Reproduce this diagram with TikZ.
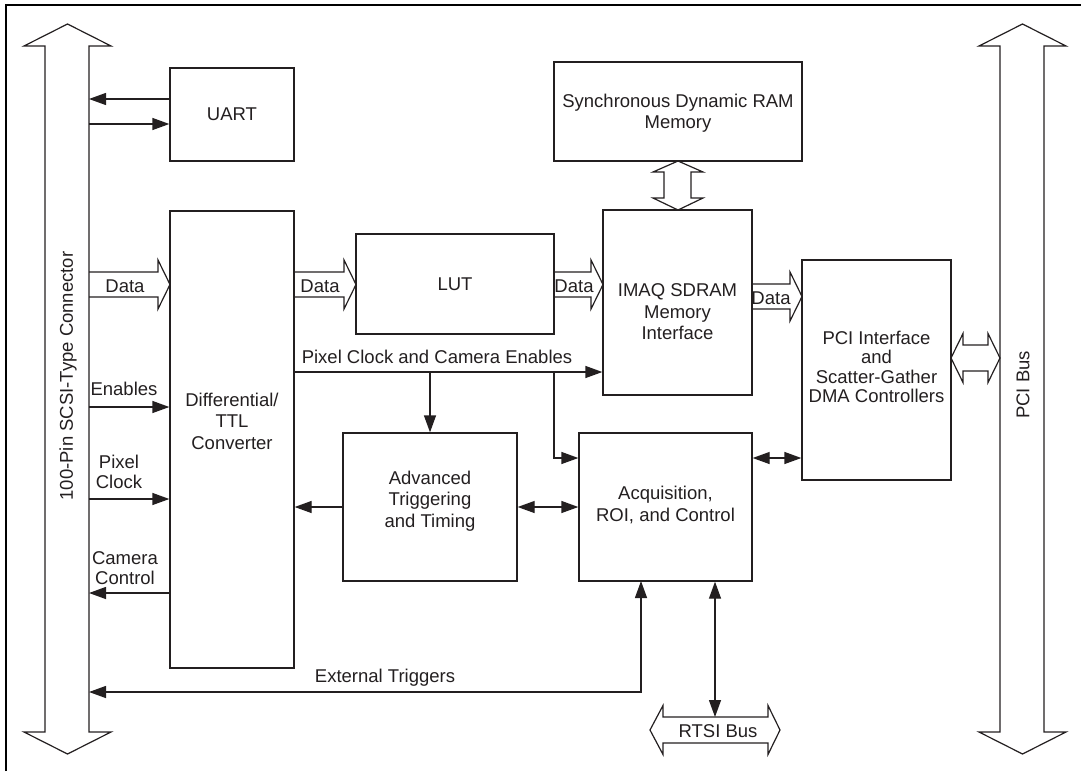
\documentclass[tikz,border=0pt]{standalone}
\usepackage{fontspec}
\setmainfont{Liberation Sans}
\usetikzlibrary{arrows.meta}
\definecolor{ink}{HTML}{231F20}
\newcommand\fatright[3]{%
  \draw[fat] (#1,#3-12.5) -- (#2-12,#3-12.5) -- (#2-12,#3-24.5) -- (#2,#3)
    -- (#2-12,#3+24.5) -- (#2-12,#3+12.5) -- (#1,#3+12.5);}
\begin{document}
\begin{tikzpicture}[x=1pt,y=-1pt,
  every node/.style={text=ink,font=\fontsize{18.5}{21.5}\selectfont},
  box/.style={draw=ink,line width=1.3pt,inner sep=0pt,rectangle},
  txt/.style={align=center,inner sep=0pt},
  fat/.style={draw=ink,line width=1.2pt,line join=miter},
  conn/.style={draw=ink,line width=1.3pt,-{Triangle[length=17pt,width=12pt]}},
  conn2/.style={draw=ink,line width=1.3pt,{Triangle[length=17pt,width=12pt]}-{Triangle[length=17pt,width=12pt]}},
  frame/.style={draw=black,line width=2.6pt}]
\useasboundingbox (0,0) rectangle (1081,771);
\draw[frame] (6,771) -- (6,5) -- (1081,5);

% buses
\draw[fat] (67.5,24) -- (111,46) -- (89,46) -- (89,732) -- (111,732) -- (67.5,754)
  -- (24,732) -- (45,732) -- (45,46) -- (24,46) -- cycle;
\node[txt,rotate=90] (scsi) at (68,376) {100-Pin SCSI-Type Connector};
\coordinate (busL) at (89,0);
\draw[fat] (1022.5,24) -- (1066,46) -- (1044,46) -- (1044,732) -- (1066,732) -- (1022.5,754)
  -- (979,732) -- (1000,732) -- (1000,46) -- (979,46) -- cycle;
\node[txt,rotate=90] (pcibus) at (1023,385) {PCI Bus};

% boxes
\node[box,minimum width=124,minimum height=93] (uart) at (232,114.5) {UART};
\node[box,minimum width=124,minimum height=457] (diff) at (232,439.5) {};
\node[txt] (difft) at (232,421) {Differential/\\TTL\\Converter};
\node[box,minimum width=198,minimum height=100] (lut) at (455,284) {LUT};
\node[box,minimum width=248,minimum height=99] (sdram) at (678,111.5) {};
\node[txt] (sdramt) at (678,113) {Synchronous Dynamic RAM\\Memory};
\node[box,minimum width=149,minimum height=185] (imaq) at (677.5,302.5) {};
\node[txt] (imaqt) at (677.5,312) {IMAQ SDRAM\\Memory\\Interface};
\node[box,minimum width=149,minimum height=220] (pci) at (876.5,370) {};
\node[txt,font=\fontsize{18.5}{19.5}\selectfont] (pcit) at (876.5,367) {PCI Interface\\and\\Scatter-Gather\\DMA Controllers};
\node[box,minimum width=174,minimum height=148] (adv) at (430,507) {};
\node[txt] (advt) at (430,501) {Advanced\\Triggering\\and Timing};
\node[box,minimum width=173,minimum height=148] (acq) at (665.5,507) {};
\node[txt] (acqt) at (665.5,505) {Acquisition,\\ROI, and Control};

% UART arrows
\draw[conn] (uart.west |- 0,99) -- (busL |- 0,99);
\draw[conn] (busL |- 0,124) -- (uart.west |- 0,124);

% fat data arrows
\fatright{89}{170}{284.5}
\fatright{294}{356}{284.5}
\fatright{554}{603}{284.5}
\fatright{752}{802}{296.5}
\node[txt] (d1) at (125,286) {Data};
\node[txt] (d2) at (320,286) {Data};
\node[txt] (d3) at (574,286) {Data};
\node[txt] (d4) at (771,298) {Data};

% SDRAM <-> IMAQ
\draw[fat] (678,161) -- (703,172) -- (691,172) -- (691,198) -- (703,198) -- (678,210)
  -- (653,198) -- (664,198) -- (664,172) -- (653,172) -- cycle;
% PCI <-> PCI bus
\draw[fat] (951,358) -- (963,333.5) -- (963,345) -- (988,345) -- (988,333.5) -- (1000,358)
  -- (988,382.5) -- (988,371) -- (963,371) -- (963,382.5) -- cycle;
% RTSI bus
\draw[fat] (650,730) -- (663,705.5) -- (663,717) -- (768,717) -- (768,705.5) -- (780,730)
  -- (768,754.5) -- (768,743) -- (663,743) -- (663,754.5) -- cycle;
\node[txt] (rtsi) at (718,731) {RTSI Bus};
\coordinate (rtsitop) at (715,717);

% left signals
\draw[conn] (busL |- 0,407) -- (diff.west |- 0,407);
\node[txt] (en) at (124,389) {Enables};
\draw[conn] (busL |- 0,499) -- (diff.west |- 0,499);
\node[txt,font=\fontsize{18.5}{19.5}\selectfont] (pc) at (119,472) {Pixel\\Clock};
\draw[conn] (diff.west |- 0,593) -- (busL |- 0,593);
\node[txt,font=\fontsize{18.5}{19.5}\selectfont] (cc) at (125,568) {Camera\\Control};

% pixel clock and camera enables
\draw[conn] (diff.east |- 0,372) -- (imaq.west |- 0,372);
\node[txt] (pcce) at (437,357) {Pixel Clock and Camera Enables};
\draw[conn] (adv.north |- 0,372) -- (adv.north);
\draw[conn] (554,372) |- (acq.west |- 0,458);
\coordinate (acqpci) at (acq.east |- 0,458);

% other connectors
\draw[conn] (adv.west) -- (diff.east |- adv.west);
\draw[conn2] (adv.east) -- (acq.west);
\draw[conn2] (acqpci) -- (pci.west |- acqpci);
\draw[conn2] (acq.south -| rtsitop) -- (rtsitop);
\draw[conn2] (busL |- 0,692) -- (641,692) -- (641,581);
\node[txt] (ext) at (385,678) {External Triggers};
\end{tikzpicture}
\end{document}
